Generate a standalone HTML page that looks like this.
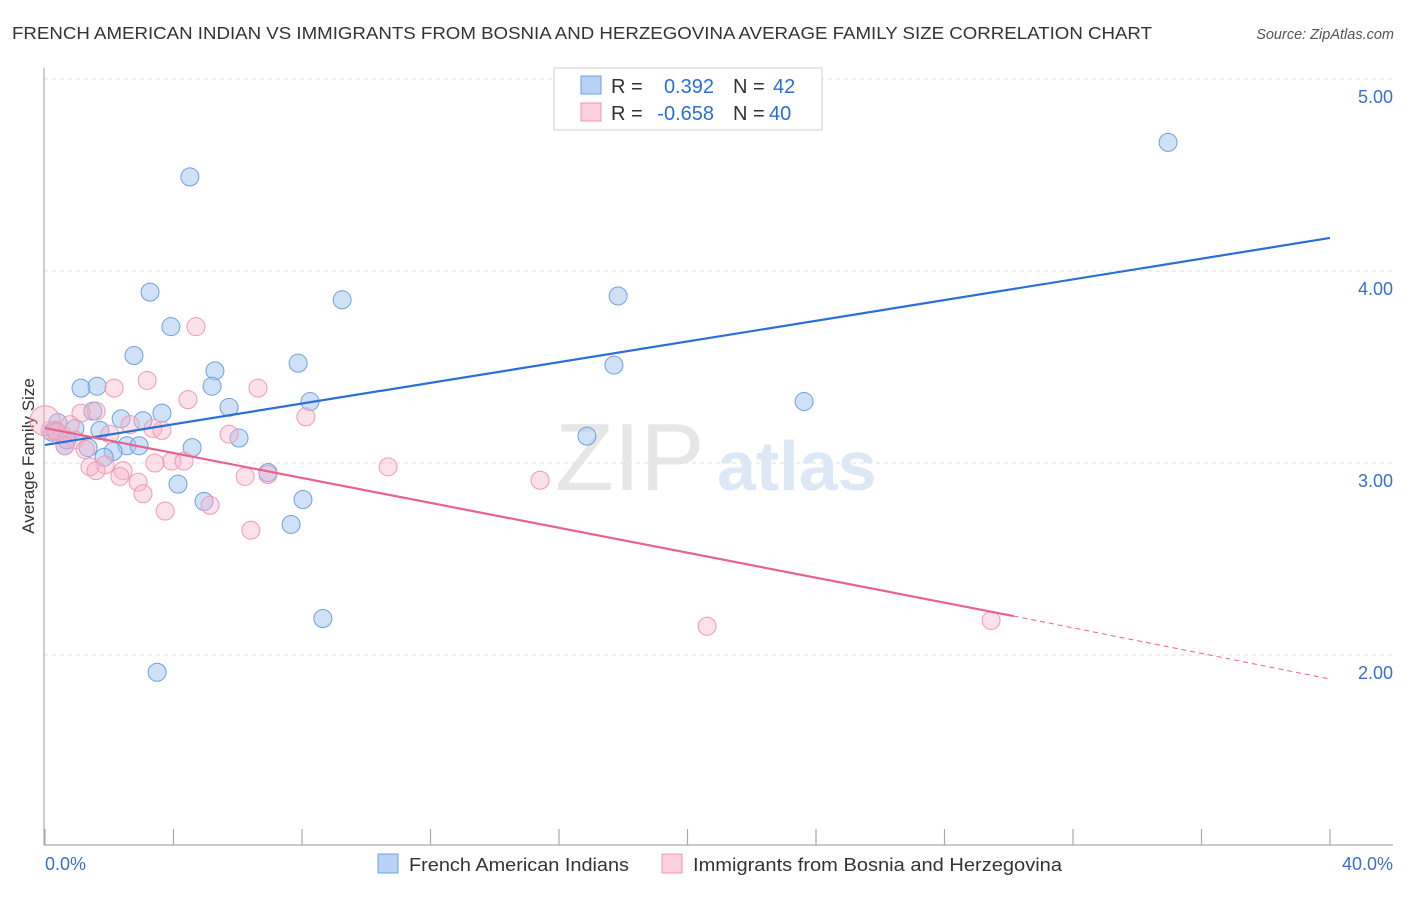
<!DOCTYPE html>
<html><head><meta charset="utf-8"><style>
body{margin:0;background:#fff;font-family:"Liberation Sans",sans-serif;}
svg text{font-family:"Liberation Sans",sans-serif;}
</style></head><body>
<svg id="chart" width="1406" height="892" xmlns="http://www.w3.org/2000/svg">
<text x="12" y="39" font-size="17.5" fill="#333" textLength="1140" lengthAdjust="spacingAndGlyphs">FRENCH AMERICAN INDIAN VS IMMIGRANTS FROM BOSNIA AND HERZEGOVINA AVERAGE FAMILY SIZE CORRELATION CHART</text>
<text x="1394" y="39" font-size="14.5" fill="#555" font-style="italic" text-anchor="end">Source: ZipAtlas.com</text>
<g id="grid"></g>
<text x="555" y="490" font-size="96" fill="#e6e6e6" font-family="Liberation Serif">ZIP</text>
<text x="717" y="490" font-size="70" fill="#dde8f6" font-weight="bold">atlas</text>
<line x1="44" y1="68" x2="44" y2="845" stroke="#aaa" stroke-width="1.2"/>
<line x1="44" y1="845" x2="1393" y2="845" stroke="#aaa" stroke-width="1.2"/>
<g id="xticks"></g>
<text x="45" y="870" font-size="18" fill="#3a6fd0">0.0%</text>
<text x="1393" y="870" font-size="18" fill="#3a6fd0" text-anchor="end">40.0%</text>
<text transform="translate(34,456) rotate(-90)" font-size="17" fill="#333" text-anchor="middle">Average Family Size</text>
<g id="pts"></g>
<g id="lines"></g>
<g>
<rect x="554" y="68" width="268" height="62" fill="#fff" stroke="#ccc"/>
<rect x="581" y="76" width="20" height="18" fill="#b7d2f5" stroke="#6fa0e0"/>
<rect x="581" y="103" width="20" height="18" fill="#fbcfdc" stroke="#f09ab5"/>
<text x="611" y="93" font-size="20" fill="#333">R =</text>
<text x="714" y="93" font-size="20" fill="#2a6fd6" text-anchor="end">0.392</text>
<text x="733" y="93" font-size="20" fill="#333">N =</text>
<text x="773" y="93" font-size="20" fill="#2a6fd6">42</text>
<text x="611" y="120" font-size="20" fill="#333">R =</text>
<text x="714" y="120" font-size="20" fill="#2a6fd6" text-anchor="end">-0.658</text>
<text x="733" y="120" font-size="20" fill="#333">N =</text>
<text x="769" y="120" font-size="20" fill="#2a6fd6">40</text>
</g>
<g>
<rect x="378" y="854" width="20" height="19" fill="#b7d2f5" stroke="#6fa0e0"/>
<text x="409" y="871" font-size="18.5" fill="#333" textLength="220" lengthAdjust="spacingAndGlyphs">French American Indians</text>
<rect x="662" y="854" width="20" height="19" fill="#fbcfdc" stroke="#f09ab5"/>
<text x="693" y="871" font-size="18.5" fill="#333" textLength="369" lengthAdjust="spacingAndGlyphs">Immigrants from Bosnia and Herzegovina</text>
</g>
</svg>
<script>
const yTicks=[2,3,4,5];
const yTickLabels=["2.00","3.00","4.00","5.00"];
const xTicks=[0,4,8,12,16,20,24,28,32,36,40];
const blueX=[4.51,34.96,3.27,9.25,17.84,3.92,2.77,7.88,5.29,17.71,1.12,1.62,5.20,8.25,23.63,5.73,1.49,2.37,3.05,3.64,0.40,0.93,0.22,6.04,16.87,2.55,2.12,2.93,4.58,1.34,0.62,1.84,6.94,4.14,4.95,8.03,7.66,8.65,3.49,0.31,1.71,0.68];
const blueY=[4.49,4.67,3.89,3.85,3.87,3.71,3.56,3.52,3.48,3.51,3.39,3.40,3.40,3.32,3.32,3.29,3.27,3.23,3.22,3.26,3.21,3.18,3.16,3.13,3.14,3.09,3.06,3.09,3.08,3.08,3.09,3.03,2.95,2.89,2.80,2.81,2.68,2.19,1.91,3.17,3.17,3.12];
const pinkX=[4.70,3.18,2.15,6.63,4.45,1.59,1.12,8.12,3.36,3.64,5.73,0.53,0.93,2.02,0.16,1.25,0.62,10.68,3.95,4.33,3.42,1.87,1.40,2.43,1.59,2.33,6.23,6.94,15.41,2.90,3.05,5.14,3.74,6.41,20.61,29.45,0.78,0,2.65,0.37];
const pinkY=[3.71,3.43,3.39,3.39,3.33,3.27,3.26,3.24,3.18,3.17,3.15,3.15,3.12,3.15,3.17,3.07,3.09,2.98,3.01,3.01,3.00,2.99,2.98,2.96,2.96,2.93,2.93,2.94,2.91,2.90,2.84,2.78,2.75,2.65,2.15,2.18,3.20,3.22,3.20,3.16];
const pinkR=pinkX.map((v,i)=>i===37?15:9);
const blueLine=[[0,3.094],[40,4.172]];
const pinkLine=[[0,3.182],[30.15,2.203],[40,1.875]];
const NS="http://www.w3.org/2000/svg";
const sx=v=>45+v/40*1285;
const sy=v=>79+(5-v)*192;
function mk(t,a,p){const e=document.createElementNS(NS,t);for(const k in a)e.setAttribute(k,a[k]);p.appendChild(e);return e;}
const grid=document.getElementById('grid');
yTicks.forEach((v,i)=>{
 const l=mk('line',{x1:44,x2:1393,y1:sy(v),y2:sy(v),stroke:'#ddd','stroke-dasharray':'4,4'},grid);
 
 
 const t=mk('text',{x:1393,y:sy(v)+24,'font-size':18,fill:'#3a6fd0','text-anchor':'end'},grid);
 t.textContent=yTickLabels[i];
 
 
});
const xt=document.getElementById('xticks');
xTicks.forEach(v=>{
 const l=mk('line',{x1:sx(v),x2:sx(v),y1:829,y2:845,stroke:'#aaa','stroke-width':1.2},xt);
 
 
});
const pts=document.getElementById('pts');
blueX.forEach((v,i)=>{
 const c=mk('circle',{cx:sx(v),cy:sy(blueY[i]),r:9,fill:'rgba(160,196,240,0.5)',stroke:'#6fa0e0','stroke-width':1},pts);
 
 
});
pinkX.forEach((v,i)=>{
 const c=mk('circle',{cx:sx(v),cy:sy(pinkY[i]),r:pinkR[i],fill:'rgba(248,180,200,0.4)',stroke:'#f09ab5','stroke-width':1},pts);
 
 
});
const ln=document.getElementById('lines');
const b=mk('line',{x1:sx(blueLine[0][0]),y1:sy(blueLine[0][1]),x2:sx(blueLine[1][0]),y2:sy(blueLine[1][1]),stroke:'#2a6fd6','stroke-width':2.2},ln);


const p1=mk('line',{x1:sx(pinkLine[0][0]),y1:sy(pinkLine[0][1]),x2:sx(pinkLine[1][0]),y2:sy(pinkLine[1][1]),stroke:'#e8628f','stroke-width':2.2},ln);


const p2=mk('line',{x1:sx(pinkLine[1][0]),y1:sy(pinkLine[1][1]),x2:sx(pinkLine[2][0]),y2:sy(pinkLine[2][1]),stroke:'#e8628f','stroke-width':1,'stroke-dasharray':'5,4'},ln);


</script>
</body></html>
